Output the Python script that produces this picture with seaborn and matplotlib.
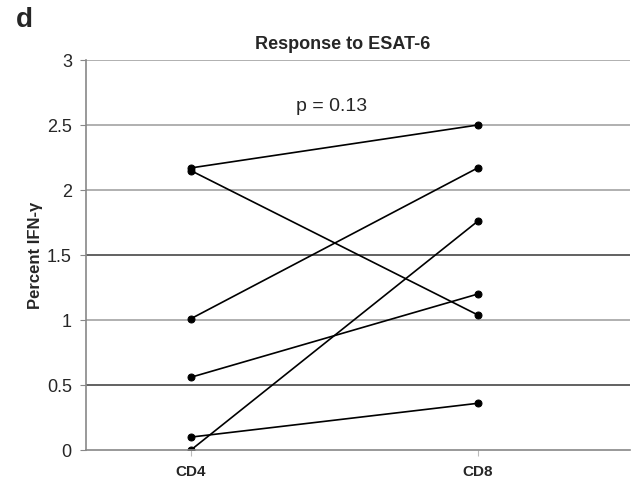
import matplotlib
matplotlib.use("Agg")
import matplotlib.pyplot as plt
import seaborn as sns
import pandas as pd

cells = ["CD4", "CD8"]
cd4_values = [2.17, 2.15, 1.01, 0.56, 0.00, 0.10]
cd8_values = [2.50, 1.04, 2.17, 1.20, 1.76, 0.36]
subjects = ["S1", "S2", "S3", "S4", "S5", "S6"]
y_ticks = [0, 0.5, 1, 1.5, 2, 2.5, 3]
y_tick_labels = ["0", "0.5", "1", "1.5", "2", "2.5", "3"]

rows = []
for s, a, b in zip(subjects, cd4_values, cd8_values):
    rows.append({"subject": s, "cell": cells[0], "value": a})
    rows.append({"subject": s, "cell": cells[1], "value": b})
df = pd.DataFrame(rows)

sns.set_style("white")
plt.rcParams["font.family"] = ["Liberation Sans", "DejaVu Sans"]

fig = plt.figure(figsize=(6.4, 4.84), dpi=100)
ax = fig.add_axes([0.134, 0.070, 0.850, 0.806])

grid_colors = {0.5: "#555555", 1.5: "#555555"}
for t in y_ticks[1:]:
    ax.axhline(t, color=grid_colors.get(t, "#aaaaaa"), lw=1.3, zorder=0)

sns.lineplot(data=df, x="cell", y="value", units="subject", estimator=None,
             color="black", marker="o", markersize=5, markeredgecolor="black",
             linewidth=1.2, ax=ax, sort=False)

ax.set_xlim(-0.366, 1.53)
ax.set_ylim(0, 3)
ax.set_yticks(y_ticks)
ax.set_yticklabels(y_tick_labels, fontsize=13)
ax.set_xticks([0, 1])
ax.set_xticklabels(cells, fontsize=11, fontweight="bold")
ax.set_xlabel("")
ax.set_ylabel("Percent IFN-γ", fontsize=12, fontweight="bold", labelpad=3)
ax.set_title("Response to ESAT-6", fontsize=13, fontweight="bold", pad=8, x=0.473)

for side in ["top", "right"]:
    ax.spines[side].set_visible(False)
for side in ["left", "bottom"]:
    ax.spines[side].set_color("#888888")
    ax.spines[side].set_linewidth(1.2)
ax.tick_params(axis="y", left=True, length=4, color="#888888", pad=6)
ax.tick_params(axis="x", bottom=True, length=4, color="#bbbbbb", pad=7)

ax.text(0.49, 2.64, "p = 0.13", ha="center", va="center", fontsize=14)
fig.text(0.025, 0.958, "d", fontsize=20, fontweight="bold", ha="left", va="center")

fig.savefig("out.png", dpi=100)
